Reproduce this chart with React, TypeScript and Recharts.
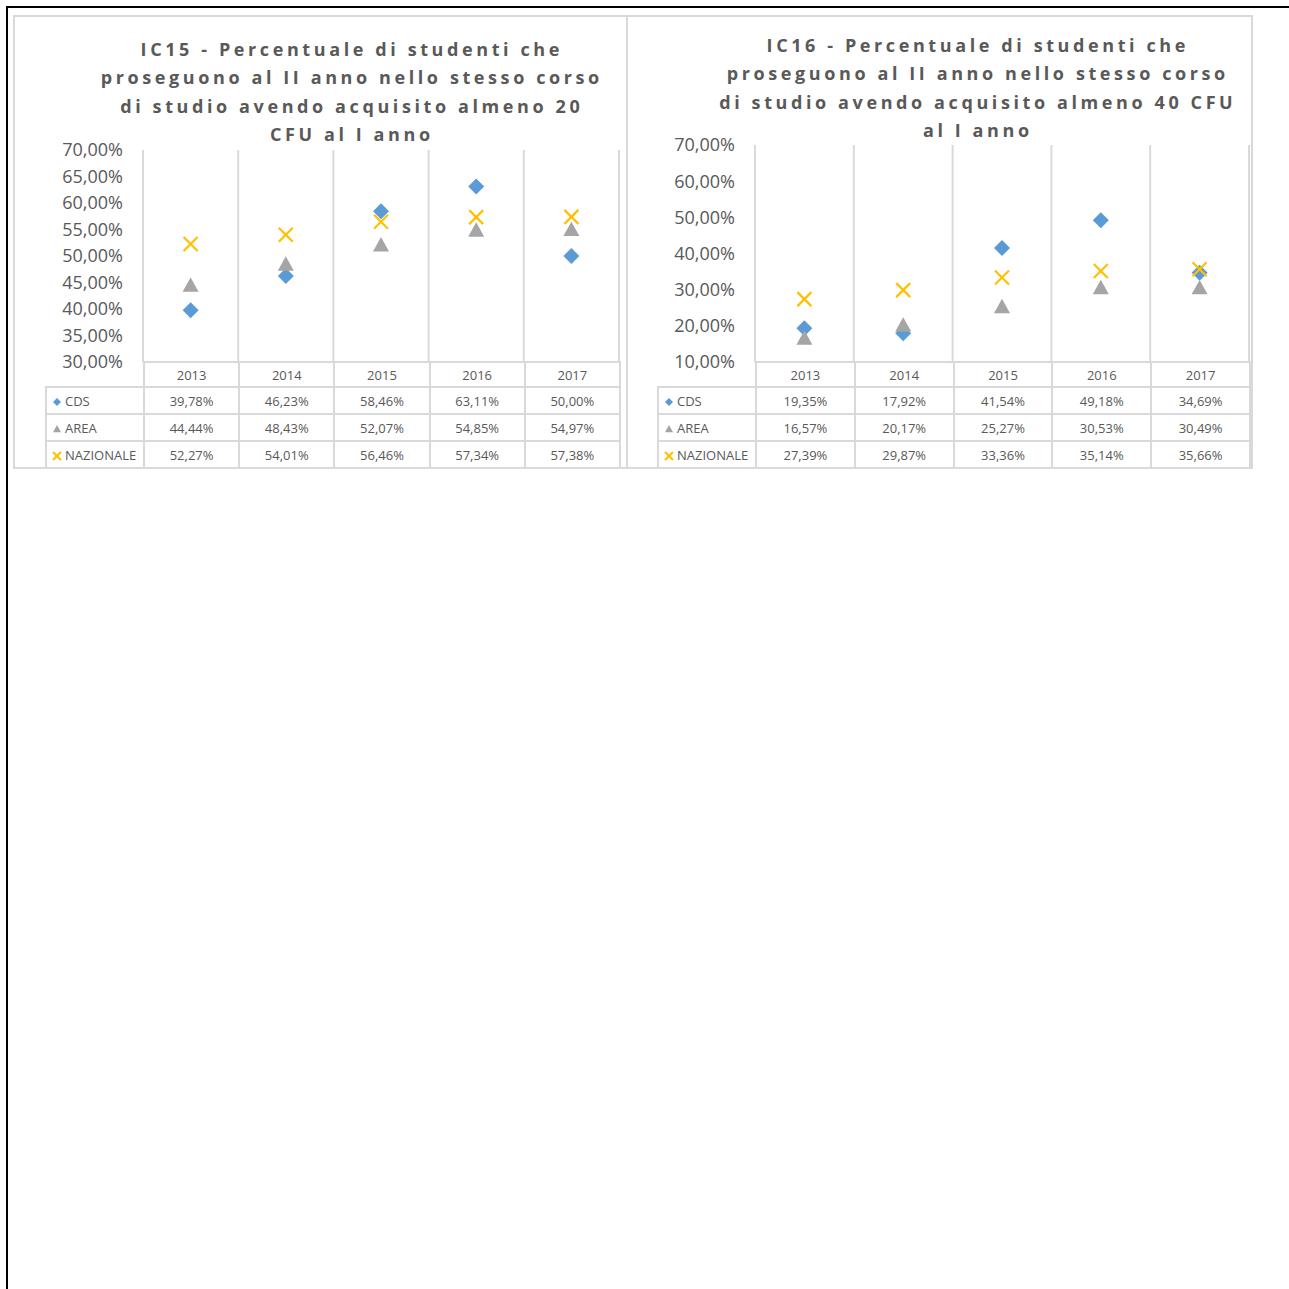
import React from 'react';
import { ComposedChart, Line, XAxis, YAxis, CartesianGrid } from 'recharts';

const years = ['2013', '2014', '2015', '2016', '2017'];
const seriesNames = ['CDS', 'AREA', 'NAZIONALE'];

const ic15Title = [
  'IC15 - Percentuale di studenti che',
  'proseguono al II anno nello stesso corso',
  'di studio avendo acquisito almeno 20',
  'CFU al I anno',
];
const ic15Ticks = [30, 35, 40, 45, 50, 55, 60, 65, 70];
const ic15Cds = [39.78, 46.23, 58.46, 63.11, 50.0];
const ic15Area = [44.44, 48.43, 52.07, 54.85, 54.97];
const ic15Naz = [52.27, 54.01, 56.46, 57.34, 57.38];

const ic16Title = [
  'IC16 - Percentuale di studenti che',
  'proseguono al II anno nello stesso corso',
  'di studio avendo acquisito almeno 40 CFU',
  'al I anno',
];
const ic16Ticks = [10, 20, 30, 40, 50, 60, 70];
const ic16Cds = [19.35, 17.92, 41.54, 49.18, 34.69];
const ic16Area = [16.57, 20.17, 25.27, 30.53, 30.49];
const ic16Naz = [27.39, 29.87, 33.36, 35.14, 35.66];

const BLUE = '#5B9BD5';
const GRAY = '#A5A5A5';
const GOLD = '#FFC000';
const TEXT = '#595959';
const LINE = '#D9D9D9';
const FONT = '"Open Sans", "Noto Sans", sans-serif';

const pct = (v: number) => v.toFixed(2).replace('.', ',') + '%';

const Diamond = ({ cx, cy, r = 8 }: any) => (
  <polygon points={`${cx},${cy - r} ${cx + r},${cy} ${cx},${cy + r} ${cx - r},${cy}`} fill={BLUE} />
);
const Triangle = ({ cx, cy, r = 8 }: any) => (
  <polygon points={`${cx},${cy - r} ${cx + r},${cy + r * 0.8} ${cx - r},${cy + r * 0.8}`} fill={GRAY} />
);
const Cross = ({ cx, cy, r = 7 }: any) => (
  <g stroke={GOLD} strokeWidth={2.2}>
    <line x1={cx - r} y1={cy - r} x2={cx + r} y2={cy + r} />
    <line x1={cx - r} y1={cy + r} x2={cx + r} y2={cy - r} />
  </g>
);

const markers = [Diamond, Triangle, Cross];

const LegendMark = ({ idx }: { idx: number }) => {
  const M = markers[idx];
  return (
    <svg width={10} height={10} style={{ verticalAlign: '-1px', marginRight: 3 }}>
      <M cx={5} cy={5} r={4} />
    </svg>
  );
};

interface PanelProps {
  boxLeft: number;
  boxWidth: number;
  chartLeft: number;
  plotLeft: number;
  plotRight: number;
  plotTop: number;
  plotBottom: number;
  legendLeft: number;
  titleCenter: number;
  titleTop: number;
  title: string[];
  ticks: number[];
  cds: number[];
  area: number[];
  naz: number[];
}

function Panel(p: PanelProps) {
  const data = years.map((y, i) => ({ year: y, cds: p.cds[i], area: p.area[i], naz: p.naz[i] }));
  const rows = [p.cds, p.area, p.naz];
  const chartWidth = p.plotRight + 10 - p.chartLeft;
  const colW = (p.plotRight - p.plotLeft) / years.length;
  const legendW = p.plotLeft - p.legendLeft;
  const cell: React.CSSProperties = {
    border: `2px solid ${LINE}`,
    padding: 0,
    textAlign: 'center',
    fontSize: 13,
    color: TEXT,
    fontFamily: FONT,
    overflow: 'hidden',
    whiteSpace: 'nowrap',
  };

  return (
    <>
      <div
        style={{
          position: 'absolute',
          left: p.boxLeft,
          top: 15,
          width: p.boxWidth,
          height: 454,
          boxSizing: 'border-box',
          border: `2px solid ${LINE}`,
        }}
      />
      <div
        style={{
          position: 'absolute',
          left: p.titleCenter - 320,
          top: p.titleTop,
          width: 640,
          textAlign: 'center',
          fontFamily: FONT,
          fontWeight: 700,
          fontSize: 18,
          letterSpacing: 3.6,
          lineHeight: '28.4px',
          color: TEXT,
        }}
      >
        {p.title.map((t) => (
          <div key={t} style={{ whiteSpace: 'nowrap', marginRight: -3.6 }}>
            {t}
          </div>
        ))}
      </div>
      <div style={{ position: 'absolute', left: p.chartLeft, top: 0 }}>
        <ComposedChart
          width={chartWidth}
          height={p.plotBottom + 10}
          data={data}
          margin={{ top: p.plotTop, right: 10, bottom: 10, left: 0 }}
        >
          <CartesianGrid
            horizontal={false}
            stroke={LINE}
            strokeWidth={2}
            verticalCoordinatesGenerator={({ offset }: any) =>
              years.concat(['']).map((_, i) => offset.left + (i * offset.width) / years.length)
            }
          />
          <XAxis dataKey="year" type="category" scale="band" hide />
          <YAxis
            type="number"
            domain={[p.ticks[0], p.ticks[p.ticks.length - 1]]}
            ticks={p.ticks}
            interval={0}
            width={p.plotLeft - p.chartLeft}
            axisLine={false}
            tickLine={false}
            tickSize={0}
            tickMargin={20}
            tickFormatter={pct}
            tick={{ fill: TEXT, fontSize: 18, fontFamily: FONT }}
          />
          {['cds', 'area', 'naz'].map((k, si) => {
            const M = markers[si];
            return (
              <Line
                key={k}
                dataKey={k}
                stroke="none"
                legendType="none"
                activeDot={false}
                isAnimationActive={false}
                dot={(d: any) => <M key={`${k}-${d.index}`} cx={d.cx} cy={d.cy} />}
              />
            );
          })}
        </ComposedChart>
      </div>
      <table
        style={{
          position: 'absolute',
          left: p.legendLeft,
          top: p.plotBottom - 1,
          borderCollapse: 'collapse',
          tableLayout: 'fixed',
          width: legendW + colW * years.length,
        }}
      >
        <colgroup>
          <col style={{ width: legendW }} />
          {years.map((y) => (
            <col key={y} style={{ width: colW }} />
          ))}
        </colgroup>
        <tbody>
          <tr style={{ height: 25 }}>
            <td style={{ border: 'none' }} />
            {years.map((y) => (
              <td key={y} style={cell}>
                {y}
              </td>
            ))}
          </tr>
          {rows.map((r, ri) => (
            <tr key={seriesNames[ri]} style={{ height: 27 }}>
              <td style={{ ...cell, textAlign: 'left', paddingLeft: 5 }}>
                <LegendMark idx={ri} />
                {seriesNames[ri]}
              </td>
              {r.map((v, i) => (
                <td key={years[i]} style={cell}>
                  {pct(v)}
                </td>
              ))}
            </tr>
          ))}
        </tbody>
      </table>
    </>
  );
}

export default function App() {
  return (
    <div style={{ position: 'absolute', left: 0, top: 0, width: 1289, height: 1289, background: '#fff' }}>
      <div
        style={{
          position: 'absolute',
          left: 6,
          top: 6,
          width: 1283,
          height: 1283,
          boxSizing: 'border-box',
          borderTop: '2px solid #000',
          borderLeft: '2px solid #000',
        }}
      />
      <Panel
        boxLeft={13}
        boxWidth={615}
        chartLeft={0}
        plotLeft={143}
        plotRight={619}
        plotTop={150}
        plotBottom={362}
        legendLeft={45}
        titleCenter={350}
        titleTop={35}
        title={ic15Title}
        ticks={ic15Ticks}
        cds={ic15Cds}
        area={ic15Area}
        naz={ic15Naz}
      />
      <Panel
        boxLeft={626}
        boxWidth={627}
        chartLeft={627}
        plotLeft={755}
        plotRight={1249}
        plotTop={145}
        plotBottom={362}
        legendLeft={657}
        titleCenter={976}
        titleTop={31}
        title={ic16Title}
        ticks={ic16Ticks}
        cds={ic16Cds}
        area={ic16Area}
        naz={ic16Naz}
      />
    </div>
  );
}
